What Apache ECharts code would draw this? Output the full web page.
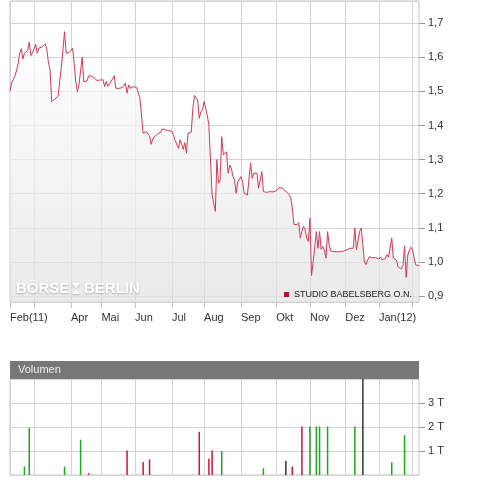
<!DOCTYPE html>
<html>
<head>
<meta charset="utf-8">
<script src="https://cdn.jsdelivr.net/npm/echarts/dist/echarts.min.js"></script>
<style>html,body{margin:0;padding:0;background:#fff}#c{width:480px;height:480px}</style>
</head>
<body>
<div id="c"></div>
<script>
// Month blocks (trading days per month) and their tick labels
var monthNames = ['Feb(11)','Mär','Apr','Mai','Jun','Jul','Aug','Sep','Okt','Nov','Dez','Jan(12)','Feb(12)'];
var monthLabels = ['Feb(11)','','Apr','Mai','Jun','Jul','Aug','Sep','Okt','Nov','Dez','Jan(12)',''];
var monthDays = [15,23,19,21,23,20,23,22,21,22,21,21,5];

// Daily closing price (EUR)
var price = [
1.500,1.525,1.535,1.543,1.560,1.580,1.610,1.625,1.595,1.612,1.617,1.620,1.645,1.605,1.612,
1.617,1.638,1.612,1.627,1.628,1.630,1.627,1.639,1.622,1.583,1.563,1.470,1.472,1.478,1.482,1.486,1.530,1.570,1.620,1.675,1.612,1.613,1.614,
1.620,1.627,1.583,1.530,1.499,1.519,1.560,1.600,1.529,1.529,1.530,1.545,1.545,1.545,1.545,1.538,1.532,1.532,1.533,
1.534,1.534,1.514,1.529,1.515,1.511,1.529,1.524,1.546,1.509,1.509,1.509,1.509,1.511,1.514,1.524,1.495,1.519,1.509,1.512,1.514,
1.512,1.511,1.514,1.480,1.478,1.377,1.380,1.382,1.384,1.370,1.345,1.360,1.367,1.372,1.375,1.372,1.380,1.390,1.395,1.387,1.386,1.385,1.384,
1.383,1.370,1.356,1.355,1.333,1.358,1.345,1.330,1.350,1.319,1.377,1.377,1.380,1.450,1.488,1.488,1.475,1.421,1.440,1.446,
1.470,1.450,1.430,1.400,1.402,1.197,1.199,1.148,1.300,1.231,1.240,1.367,1.314,1.309,1.323,1.260,1.284,1.275,1.250,1.240,1.201,1.235,1.238,
1.250,1.236,1.201,1.201,1.196,1.191,1.290,1.245,1.260,1.260,1.260,1.216,1.211,1.265,1.206,1.205,1.204,1.205,1.206,1.208,1.205,1.201,
1.208,1.212,1.218,1.217,1.216,1.210,1.209,1.203,1.197,1.190,1.160,1.110,1.108,1.109,1.115,1.070,1.090,1.104,1.095,1.070,1.060,
1.128,0.960,1.000,1.045,1.089,1.040,1.089,1.037,1.045,1.035,1.011,1.089,1.050,1.032,1.031,1.030,1.030,1.030,1.030,1.030,1.031,1.032,
1.033,1.035,1.030,1.040,1.035,1.040,1.099,1.035,1.030,1.090,1.099,1.099,1.000,0.992,1.006,1.015,1.014,1.012,1.014,1.013,1.010,
1.008,1.014,1.006,1.007,1.010,1.021,1.014,1.012,1.070,1.011,1.009,1.005,0.985,0.982,0.980,0.990,1.047,0.955,1.020,1.035,1.043,
1.035,1.010,0.991,0.991,0.989
];

// Volume (thousands of shares, "T") on the days with turnover
var volDay   = [9,12,34,44,49,73,83,87,118,124,126,132,158,172,176,182,187,191,193,198,215,220,238,246];
var volValue = [0.35,1.97,0.35,1.47,0.07,1.02,0.54,0.65,1.8,0.68,1.02,1.0,0.28,0.58,0.35,2.02,2.02,2.02,2.02,2.02,2.02,4.0,0.53,1.66];
var volDir   = ['up','up','up','up','down','down','down','down','down','down','down','up','up','flat','down','down','up','up','up','up','up','flat','up','up'];

var yTicks = [0.9,1.0,1.1,1.2,1.3,1.4,1.5,1.6,1.7];
var seriesName = 'STUDIO BABELSBERG O.N.';

// ---- build categories
var cats = [], starts = {}, startLabel = {};
for (var m = 0; m < monthNames.length; m++) {
  starts[cats.length] = true;
  startLabel[cats.length] = monthLabels[m];
  for (var d = 1; d <= monthDays[m]; d++) cats.push(monthNames[m] + ' ' + d);
}
var dirColor = {up: '#22a322', down: '#c8163a', flat: '#333333'};
var vol = cats.map(function(){ return null; });
for (var k = 0; k < volDay.length; k++) {
  vol[volDay[k]] = {value: volValue[k], itemStyle: {color: dirColor[volDir[k]]}};
}
function isStart(i){ return !!starts[i]; }
var FONT = 'Liberation Sans, Arial, sans-serif';
var gridCol = '#d3d3d3';

var chart = echarts.init(document.getElementById('c'), null, {renderer: 'canvas'});
chart.setOption({
  animation: false,
  textStyle: {fontFamily: FONT},
  grid: [
    {left: 10, right: 61, top: 1, bottom: 178, show: true, borderColor: '#c6c6c6', borderWidth: 1, backgroundColor: '#fff'},
    {left: 10, right: 61, top: 379, bottom: 5, show: true, borderColor: '#c6c6c6', borderWidth: 1, backgroundColor: '#fff'}
  ],
  legend: {
    left: 284, top: 290, padding: 0, itemWidth: 5, itemHeight: 5, itemGap: 4, icon: 'rect',
    selectedMode: false,
    textStyle: {fontSize: 9, color: '#222', fontFamily: FONT},
    data: [{name: seriesName, itemStyle: {color: '#c0102a'}}]
  },
  xAxis: [
    {type: 'category', gridIndex: 0, data: cats, boundaryGap: false,
     axisLine: {show: false},
     axisTick: {show: true, interval: isStart, length: 6, lineStyle: {color: '#c6c6c6'}},
     axisLabel: {interval: isStart, align: 'left', margin: 10, fontSize: 11, color: '#333', fontFamily: FONT,
       formatter: function(v, i){ return startLabel[i] || ''; }},
     splitLine: {show: true, interval: isStart, lineStyle: {color: gridCol, width: 1}}},
    {type: 'category', gridIndex: 1, data: cats, boundaryGap: false,
     axisLine: {show: false}, axisTick: {show: false}, axisLabel: {show: false},
     splitLine: {show: true, interval: isStart, lineStyle: {color: gridCol, width: 1}}}
  ],
  yAxis: [
    {type: 'value', gridIndex: 0, position: 'right', min: 0.8824, max: 1.765, splitNumber: 9,
     axisLine: {show: false},
     axisTick: {show: true, length: 6, lineStyle: {color: '#999'}},
     axisLabel: {margin: 9, fontSize: 11, color: '#333', fontFamily: FONT, showMinLabel: false, showMaxLabel: false,
       formatter: function(v){
         for (var t = 0; t < yTicks.length; t++) if (Math.abs(v - yTicks[t]) < 1e-6) return yTicks[t].toFixed(1).replace('.', ',');
         return '';
       }},
     splitLine: {show: true, lineStyle: {color: gridCol, width: 1}}},
    {type: 'value', gridIndex: 1, position: 'right', min: 0, max: 4, interval: 1,
     axisLine: {show: false},
     axisTick: {show: true, length: 6, lineStyle: {color: '#999'}},
     axisLabel: {margin: 9, fontSize: 11, color: '#333', fontFamily: FONT, showMinLabel: false, showMaxLabel: false,
       formatter: function(v){ return (v > 0 && v < 4) ? v + ' T' : ''; }},
     splitLine: {show: true, lineStyle: {color: gridCol, width: 1}}}
  ],
  graphic: [
    {type: 'rect', shape: {x: 10, y: 361, width: 409, height: 18}, style: {fill: '#777'}, z: 10},
    {type: 'text', x: 18, y: 370, style: {text: 'Volumen', fill: '#eee', font: '11px ' + FONT, textVerticalAlign: 'middle'}, z: 11},
    {type: 'text', x: 16, y: 289, style: {text: 'BÖRSE', fill: '#fff', font: 'bold 15px ' + FONT, textVerticalAlign: 'middle',
      textShadowColor: 'rgba(0,0,0,0.25)', textShadowBlur: 2, textShadowOffsetY: 1}, z: 5},
    {type: 'polygon', shape: {points: [[72,283],[80,283],[76,288.5],[80,294],[72,294],[76,288.5]]},
      style: {fill: '#fff', shadowColor: 'rgba(0,0,0,0.25)', shadowBlur: 2, shadowOffsetY: 1}, z: 5},
    {type: 'text', x: 84, y: 289, style: {text: 'BERLIN', fill: '#fff', font: 'bold 15px ' + FONT, textVerticalAlign: 'middle',
      textShadowColor: 'rgba(0,0,0,0.25)', textShadowBlur: 2, textShadowOffsetY: 1}, z: 5}
  ],
  series: [
    {name: seriesName, type: 'line', xAxisIndex: 0, yAxisIndex: 0, data: price, symbol: 'none',
     color: '#c0102a',
     lineStyle: {color: '#d23a55', width: 1},
     areaStyle: {origin: 'start', color: new echarts.graphic.LinearGradient(0, 0, 0, 1, [
       {offset: 0, color: '#ffffff'}, {offset: 1, color: '#e1e1e1'}])},
     z: 3},
    {name: 'Volumen', type: 'bar', xAxisIndex: 1, yAxisIndex: 1, data: vol, barWidth: 1.5, barGap: '-100%'}
  ]
});
</script>
</body>
</html>
